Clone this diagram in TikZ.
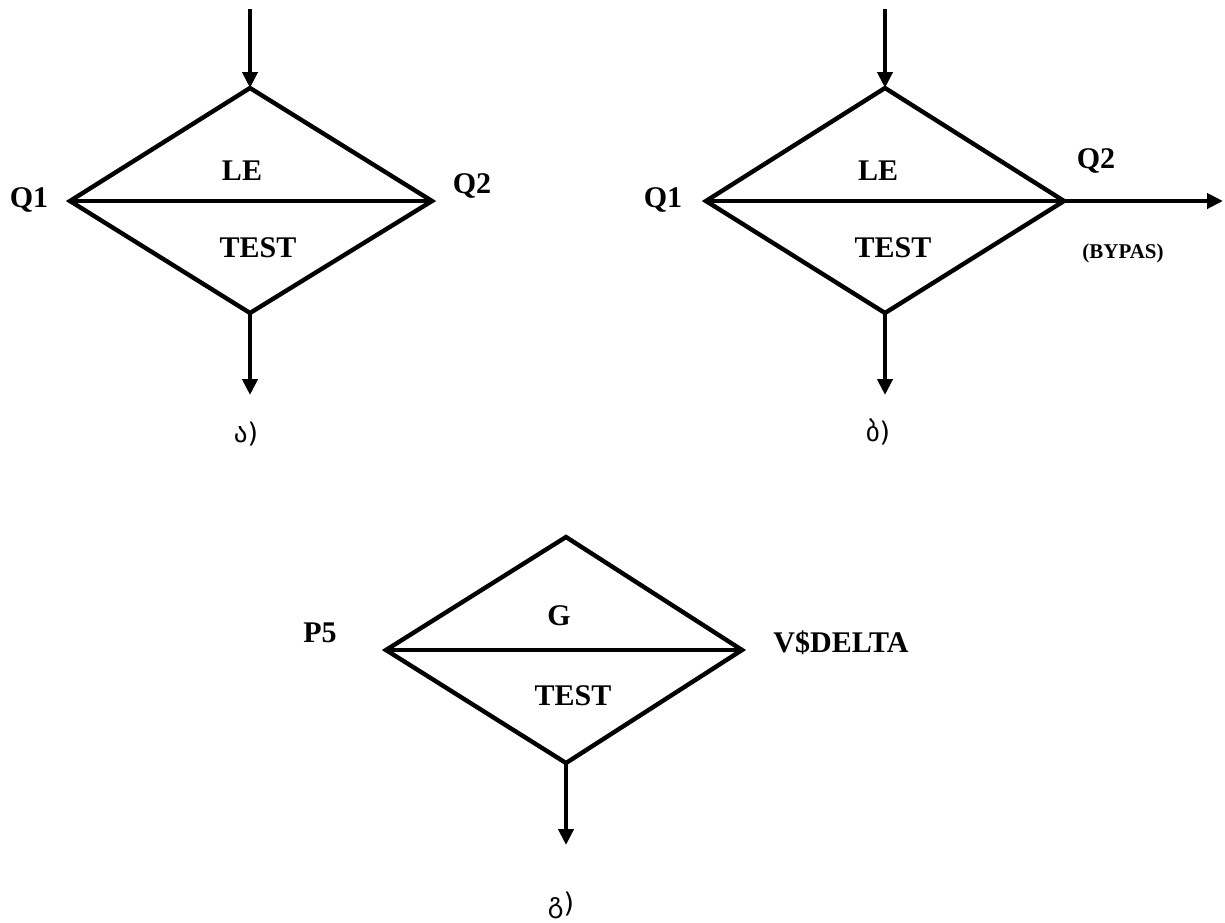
\documentclass[tikz,border=0pt]{standalone}
\usepackage{fontspec}
\setmainfont{Liberation Serif}
\newfontfamily\geofont{DejaVu Sans}
\usetikzlibrary{arrows.meta}

\begin{document}
\begin{tikzpicture}[x=1pt,y=-1pt,
  edge/.style={line width=4.4pt,line join=miter},
  flow/.style={edge,-{Triangle[length=16pt,width=15pt]}},
  lbl/.style={inner sep=0pt,anchor=base,font=\fontsize{30}{36}\selectfont\bfseries},
  small/.style={inner sep=0pt,anchor=base,font=\fontsize{21}{25}\selectfont\bfseries},
  geolbl/.style={inner sep=0pt,anchor=center,font=\fontsize{27}{32}\selectfont\geofont}]
\useasboundingbox (0,0) rectangle (1225,922);

% --- block a ---
\coordinate (aIn)  at (250,9);
\coordinate (aT)   at (250,88);
\coordinate (aR)   at (432,201);
\coordinate (aB)   at (250,313);
\coordinate (aL)   at (70,201);
\coordinate (aOut) at (250,395);
\draw[edge] (aT) -- (aR) -- (aB) -- (aL) -- cycle;
\draw[edge] (aL) -- (aR);
\draw[flow] (aIn) -- (aT);
\draw[flow] (aB) -- (aOut);
\node[lbl] (aq1) at (29,207) {Q1};
\node[lbl] (aq2) at (472,193) {Q2};
\node[lbl] (ale) at (242,180) {LE};
\node[lbl] (ats) at (258,257) {TEST};
\node[geolbl] (acap) at (246,434) {ა)};

% --- block b ---
\coordinate (bIn)  at (885,9);
\coordinate (bT)   at (885,88);
\coordinate (bR)   at (1064,201);
\coordinate (bB)   at (885,313);
\coordinate (bL)   at (706,201);
\coordinate (bOut) at (885,395);
\coordinate (bEx)  at (1223,201);
\draw[edge] (bT) -- (bR) -- (bB) -- (bL) -- cycle;
\draw[edge] (bL) -- (bR);
\draw[flow] (bIn) -- (bT);
\draw[flow] (bB) -- (bOut);
\draw[flow] (bR) -- (bEx);
\node[lbl] (bq1) at (663,207) {Q1};
\node[lbl] (bq2) at (1096,168) {Q2};
\node[small] (bby) at (1123,258) {(BYPAS)};
\node[lbl] (ble) at (878,180) {LE};
\node[lbl] (bts) at (893,257) {TEST};
\node[geolbl] (bcap) at (878,432) {ბ)};

% --- block c ---
\coordinate (cT)   at (566,537);
\coordinate (cR)   at (742,650);
\coordinate (cB)   at (566,763);
\coordinate (cL)   at (386,650);
\coordinate (cOut) at (566,845);
\draw[edge] (cT) -- (cR) -- (cB) -- (cL) -- cycle;
\draw[edge] (cL) -- (cR);
\draw[flow] (cB) -- (cOut);
\node[lbl] (cp5) at (320,642) {P5};
\node[lbl] (cvd) at (841,652) {V\$DELTA};
\node[lbl] (cg)  at (559,625) {G};
\node[lbl] (cts) at (573,705) {TEST};
\node[geolbl] (ccap) at (561,905) {გ)};
\end{tikzpicture}
\end{document}
